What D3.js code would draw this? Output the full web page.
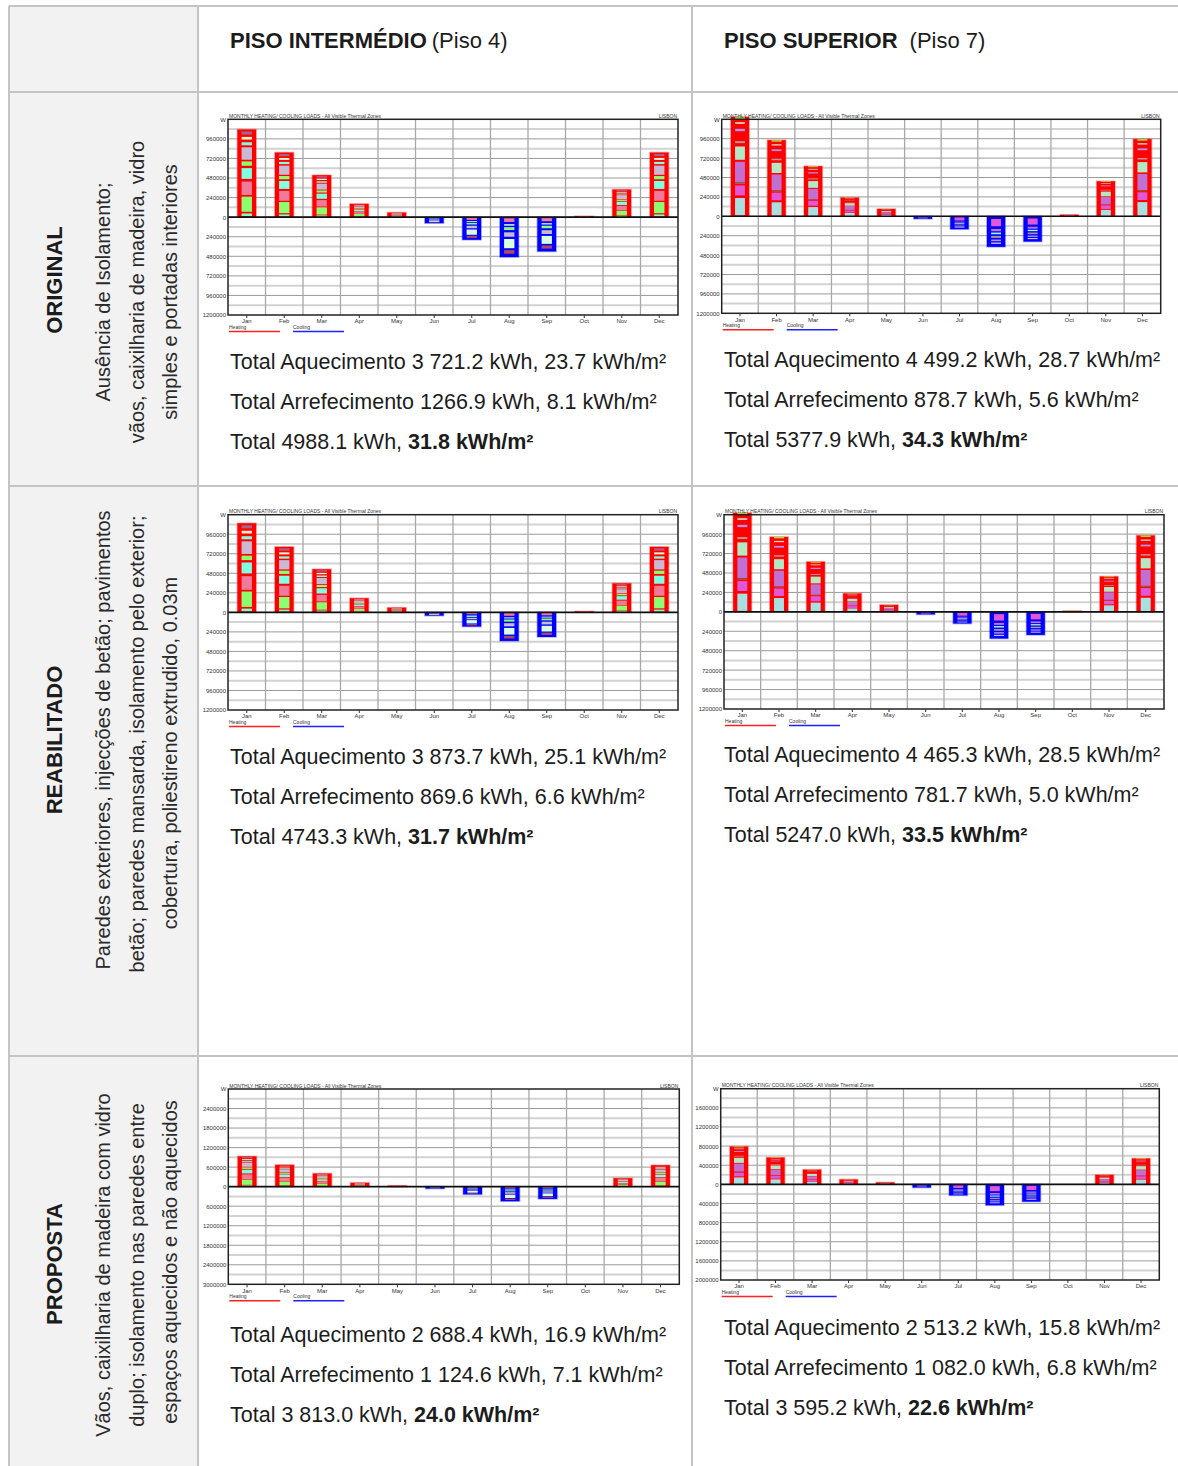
<!DOCTYPE html>
<html>
<head>
<meta charset="utf-8">
<script src="https://cdn.jsdelivr.net/npm/d3@7"></script>
<style>
  html, body { margin: 0; padding: 0; background: #fff; }
  svg { display: block; font-family: "Liberation Sans", Arial, sans-serif; }
</style>
</head>
<body>
<svg id="page" width="1178" height="1466"></svg>
<script>
// ---------- data ----------
const months = ["Jan","Feb","Mar","Apr","May","Jun","Jul","Aug","Sep","Oct","Nov","Dec"];

// Monthly heating / cooling loads (Wh), all visible thermal zones, Lisbon
const heatOrigP4 = [1075000, 793000, 515000, 163000, 57000, 0, 0, 0, 0, 12000, 339000, 793000];
const coolOrigP4 = [0, 0, 0, 0, 0, 74000, 278000, 490000, 421000, 0, 0, 0];
const heatOrigP7 = [1230000, 942000, 620000, 231000, 91000, 0, 0, 0, 0, 20000, 434000, 955000];
const coolOrigP7 = [0, 0, 0, 0, 0, 32000, 160000, 378000, 313000, 0, 0, 0];
const heatReabP4 = [1095000, 805000, 530000, 174000, 58000, 0, 0, 0, 0, 12000, 356000, 805000];
const coolReabP4 = [0, 0, 0, 0, 0, 41000, 175000, 351000, 302600, 0, 0, 0];
const heatReabP7 = [1222000, 926000, 619000, 228000, 86000, 0, 0, 0, 0, 12000, 437000, 944000];
const coolReabP7 = [0, 0, 0, 0, 0, 32000, 145000, 330000, 285000, 0, 0, 0];
const heatPropP4 = [930000, 670000, 405000, 120000, 30000, 0, 0, 0, 0, 0, 260000, 660000];
const coolPropP4 = [0, 0, 0, 0, 0, 62000, 238000, 448000, 376600, 0, 0, 0];
const heatPropP7 = [790000, 562000, 308000, 103000, 41000, 0, 0, 0, 0, 0, 198000, 542000];
const coolPropP7 = [0, 0, 0, 0, 0, 68000, 232000, 438000, 362000, 0, 0, 0];

// Axis half-ranges (W); major step is a fifth of it
const axisMaxP4 = [1200000, 1200000, 3000000];
const axisMaxP7 = [1200000, 1200000, 2000000];

// Zone make-up of each stacked bar, from the zero line outward (relative shares);
// a null zone lets the bar colour show through
const zoneShareHeatP4 = [3, 8, 5, 45, 5, 40, 8, 32, 7, 13, 5, 37, 6, 9, 8, 8, 7, 9, 6];
const zoneColourHeatP4 = [null, "#80ffd0", null, "#8cff6e", null, "#f07a9a", null, "#80ffe2", null, "#8cff6e", null, "#c9b9d2", null, "#80ffe2", null, "#fff2c8", null, "#a8608e", null];
const zoneShareCoolP4 = [3, 10, 6, 4, 4, 8, 6, 12, 6, 25, 5, 10, 9];
const zoneColourCoolP4 = [null, "#f07a9a", null, "#e0ffff", null, "#8cff6e", null, "#c9b9d2", null, "#d8ffe0", null, "#b04860", null];
const zoneShareHeatP7 = [3, 52, 8, 30, 4, 3, 2, 62, 6, 40, 10, 6, 30, 7, 15, 5, 10, 6];
const zoneColourHeatP7 = [null, "#a8e0e2", null, "#e058d8", null, "#70804a", null, "#c070d0", null, "#b4e8c4", null, "#c09494", null, "#b492f0", null, "#ffd8c4", null, "#a8e040", null];
const zoneShareCoolP7 = [8, 22, 8, 7, 4, 5, 5, 6, 5, 5, 4, 4, 9];
const zoneColourCoolP7 = [null, "#e058d8", null, "#c070d0", null, "#a0ffff", null, "#b09494", null, "#b492f0", null, "#d0c4ff", null];

const colHeads = [["PISO INTERMÉDIO", "(Piso 4)"], ["PISO SUPERIOR", "(Piso 7)"]];
const rowTitles = ["ORIGINAL", "REABILITADO", "PROPOSTA"];
const rowNotes = [
  ["Ausência de Isolamento;", "vãos, caixilharia de madeira, vidro", "simples e portadas interiores"],
  ["Paredes exteriores, injecções de betão; pavimentos", "betão; paredes mansarda, isolamento pelo exterior;", "cobertura, poliestireno extrudido, 0.03m"],
  ["Vãos, caixilharia de madeira com vidro", "duplo; isolamento nas paredes entre", "espaços aquecidos e não aquecidos"]
];
// Annual totals per cell: [heating, cooling, total, total per m2]
const totalsP4 = [
  ["3 721.2 kWh, 23.7 kWh/m²", "1266.9 kWh, 8.1 kWh/m²", "4988.1 kWh, ", "31.8 kWh/m²"],
  ["3 873.7 kWh, 25.1 kWh/m²", "869.6 kWh, 6.6 kWh/m²", "4743.3 kWh, ", "31.7 kWh/m²"],
  ["2 688.4 kWh, 16.9 kWh/m²", "1 124.6 kWh, 7.1 kWh/m²", "3 813.0 kWh, ", "24.0 kWh/m²"]
];
const totalsP7 = [
  ["4 499.2 kWh, 28.7 kWh/m²", "878.7 kWh, 5.6 kWh/m²", "5377.9 kWh, ", "34.3 kWh/m²"],
  ["4 465.3 kWh, 28.5 kWh/m²", "781.7 kWh, 5.0 kWh/m²", "5247.0 kWh, ", "33.5 kWh/m²"],
  ["2 513.2 kWh, 15.8 kWh/m²", "1 082.0 kWh, 6.8 kWh/m²", "3 595.2 kWh, ", "22.6 kWh/m²"]
];

// ---------- page / table ----------
const svg = d3.select("#page");
const lineCol = "#c4c4c4";
const textCol = "#1c1c1c";
const colX = [9, 198, 692];
const rowY = [6, 92, 486, 1056];

svg.append("rect").attr("x", colX[0]).attr("y", rowY[0])
  .attr("width", colX[1] - colX[0]).attr("height", 1466 - rowY[0]).attr("fill", "#f2f2f2");

colX.forEach(x => svg.append("line").attr("x1", x).attr("x2", x).attr("y1", rowY[0]).attr("y2", 1466)
  .attr("stroke", lineCol).attr("stroke-width", 2));
rowY.forEach(y => svg.append("line").attr("x1", colX[0]).attr("x2", 1178).attr("y1", y).attr("y2", y)
  .attr("stroke", lineCol).attr("stroke-width", 2));

// column headers
[[230, 0], [724, 1]].forEach(([x, i]) => {
  const t = svg.append("text").attr("x", x).attr("y", 48).attr("font-size", 22).attr("fill", textCol);
  t.append("tspan").attr("font-weight", "bold").text(colHeads[i][0]);
  t.append("tspan").attr("dx", i === 1 ? 12 : 5).text(colHeads[i][1]);
});

// row headers (rotated)
const titleCentre = [280, 740, 1264];
const noteCentre = [[292, 292, 292], [740, 744, 753], [1265, 1265, 1262]];
const noteBase = [109.5, 144, 177];
rowTitles.forEach((title, r) => {
  svg.append("text").attr("transform", `translate(62,${titleCentre[r]}) rotate(-90)`)
    .attr("text-anchor", "middle").attr("font-size", 22).attr("font-weight", "bold")
    .attr("fill", textCol).text(title);
  rowNotes[r].forEach((line, k) => {
    svg.append("text").attr("transform", `translate(${noteBase[k]},${noteCentre[r][k]}) rotate(-90)`)
      .attr("text-anchor", "middle").attr("font-size", 20).attr("fill", "#2a2a2a").text(line);
  });
});

// annual totals
function totalsBlock(x, y0, vals) {
  const rows = [["Total Aquecimento ", vals[0]], ["Total Arrefecimento ", vals[1]]];
  rows.forEach((r, k) => {
    svg.append("text").attr("x", x).attr("y", y0 + k * 40).attr("font-size", 21.5).attr("fill", textCol)
      .text(r[0] + r[1]);
  });
  const t = svg.append("text").attr("x", x).attr("y", y0 + 80).attr("font-size", 21.5).attr("fill", textCol);
  t.append("tspan").text("Total " + vals[2]);
  t.append("tspan").attr("font-weight", "bold").text(vals[3]);
}
const totY4 = [369, 764, 1342];
const totY7 = [367, 762, 1335];
totalsP4.forEach((v, r) => totalsBlock(230, totY4[r], v));
totalsP7.forEach((v, r) => totalsBlock(724, totY7[r], v));

// ---------- monthly load charts ----------
function drawChart(cfg) {
  const g = svg.append("g");
  const { x0, y0, w, h, max, heat, cool, hs, hc, cs, cc } = cfg;
  const step = max / 5;
  const x = d3.scaleBand().domain(months).range([x0, x0 + w]);
  const y = d3.scaleLinear().domain([-max, max]).range([y0 + h, y0]);

  g.append("rect").attr("x", x0).attr("y", y0).attr("width", w).attr("height", h).attr("fill", "#fff");

  // minor grid (half steps)
  const minor = d3.range(-5, 5).map(i => (i + 0.5) * step);
  g.selectAll(".mn").data(minor).join("line")
    .attr("x1", x0).attr("x2", x0 + w).attr("y1", d => y(d)).attr("y2", d => y(d))
    .attr("stroke", "#d2d2d2").attr("stroke-width", 2);
  const major = d3.range(-4, 5).map(i => i * step);
  g.selectAll(".mj").data(major).join("line")
    .attr("x1", x0).attr("x2", x0 + w).attr("y1", d => y(d)).attr("y2", d => y(d))
    .attr("stroke", "#9a9a9a").attr("stroke-width", 1);
  g.selectAll(".vg").data(months.slice(1)).join("line")
    .attr("x1", d => x(d)).attr("x2", d => x(d)).attr("y1", y0).attr("y2", y0 + h)
    .attr("stroke", "#a8a8a8").attr("stroke-width", 1.3);

  const bw = x.bandwidth() * 0.5;
  const inset = 4.2;
  function bars(vals, sign, colour, shares, zoneCols) {
    const tot = d3.sum(shares);
    const cum = d3.cumsum(shares).map(c => c / tot);
    months.forEach((m, i) => {
      const v = vals[i] * sign;
      if (!vals[i]) return;
      const bx = x(m) + (x.bandwidth() - bw) / 2;
      g.append("rect").attr("x", bx).attr("width", bw)
        .attr("y", Math.min(y(v), y(0))).attr("height", Math.abs(y(v) - y(0)))
        .attr("fill", colour).attr("stroke", colour).attr("stroke-opacity", 0.3).attr("stroke-width", 1.6);
      shares.forEach((s, k) => {
        if (!zoneCols[k]) return;
        const a = v * (k ? cum[k - 1] : 0), b = v * cum[k];
        const ya = y(a), yb = y(b);
        g.append("rect").attr("x", bx + inset).attr("width", bw - 2 * inset)
          .attr("y", Math.min(ya, yb)).attr("height", Math.abs(yb - ya))
          .attr("fill", zoneCols[k]);
      });
    });
  }
  bars(heat, 1, "#ff0000", hs, hc);
  bars(cool, -1, "#0000ff", cs, cc);

  // zero line and frame
  g.append("line").attr("x1", x0).attr("x2", x0 + w).attr("y1", y(0)).attr("y2", y(0))
    .attr("stroke", "#111").attr("stroke-width", 1.6);
  g.append("rect").attr("x", x0).attr("y", y0).attr("width", w).attr("height", h)
    .attr("fill", "none").attr("stroke", "#222").attr("stroke-width", 1.5);

  // axes
  const ya = g.append("g").attr("transform", `translate(${x0},0)`)
    .call(d3.axisLeft(y).tickValues(d3.range(-5, 6).map(i => i * step))
      .tickFormat(d => d === max ? "W" : String(Math.abs(d))).tickSize(0).tickPadding(2));
  ya.select(".domain").remove();
  ya.selectAll("text").attr("font-size", 6).attr("fill", "#333").attr("font-family", "Liberation Sans, Arial, sans-serif");

  const xa = g.append("g").attr("transform", `translate(0,${y0 + h})`)
    .call(d3.axisBottom(x).tickSize(3).tickPadding(1));
  xa.select(".domain").remove();
  xa.selectAll("line").attr("stroke", "#333");
  xa.selectAll("text").attr("font-size", 6).attr("fill", "#333").attr("font-family", "Liberation Sans, Arial, sans-serif");

  // header line
  g.append("text").attr("x", x0 + 1).attr("y", y0 - 1.5).attr("font-size", 5).attr("fill", "#333")
    .text("MONTHLY HEATING/ COOLING LOADS - All Visible Thermal Zones");
  g.append("text").attr("x", x0 + w - 1).attr("y", y0 - 1.5).attr("font-size", 5).attr("fill", "#333")
    .attr("text-anchor", "end").text("LISBON");

  // legend
  const ly = y0 + h + 14;
  [["Heating", "#ff2020", 1], ["Cooling", "#2020ff", 65]].forEach(([lab, c, dx]) => {
    g.append("text").attr("x", x0 + dx).attr("y", ly).attr("font-size", 5).attr("fill", "#333").text(lab);
    g.append("line").attr("x1", x0 + dx).attr("x2", x0 + dx + 51).attr("y1", ly + 2.5).attr("y2", ly + 2.5)
      .attr("stroke", c).attr("stroke-width", 1.4);
  });
}

const P4 = { hs: zoneShareHeatP4, hc: zoneColourHeatP4, cs: zoneShareCoolP4, cc: zoneColourCoolP4 };
const P7 = { hs: zoneShareHeatP7, hc: zoneColourHeatP7, cs: zoneShareCoolP7, cc: zoneColourCoolP7 };

drawChart({ ...P4, x0: 228, y0: 119.3, w: 450, h: 195.7, max: axisMaxP4[0], heat: heatOrigP4, cool: coolOrigP4 });
drawChart({ ...P7, x0: 721.7, y0: 119.3, w: 439, h: 194, max: axisMaxP7[0], heat: heatOrigP7, cool: coolOrigP7 });
drawChart({ ...P4, x0: 228, y0: 514.7, w: 450, h: 195.3, max: axisMaxP4[1], heat: heatReabP4, cool: coolReabP4 });
drawChart({ ...P7, x0: 724, y0: 514.7, w: 440, h: 194.3, max: axisMaxP7[1], heat: heatReabP7, cool: coolReabP7 });
drawChart({ ...P4, x0: 228.3, y0: 1089, w: 451, h: 195.3, max: axisMaxP4[2], heat: heatPropP4, cool: coolPropP4 });
drawChart({ ...P7, x0: 720.7, y0: 1088.7, w: 438.6, h: 191.3, max: axisMaxP7[2], heat: heatPropP7, cool: coolPropP7 });
</script>
</body>
</html>
